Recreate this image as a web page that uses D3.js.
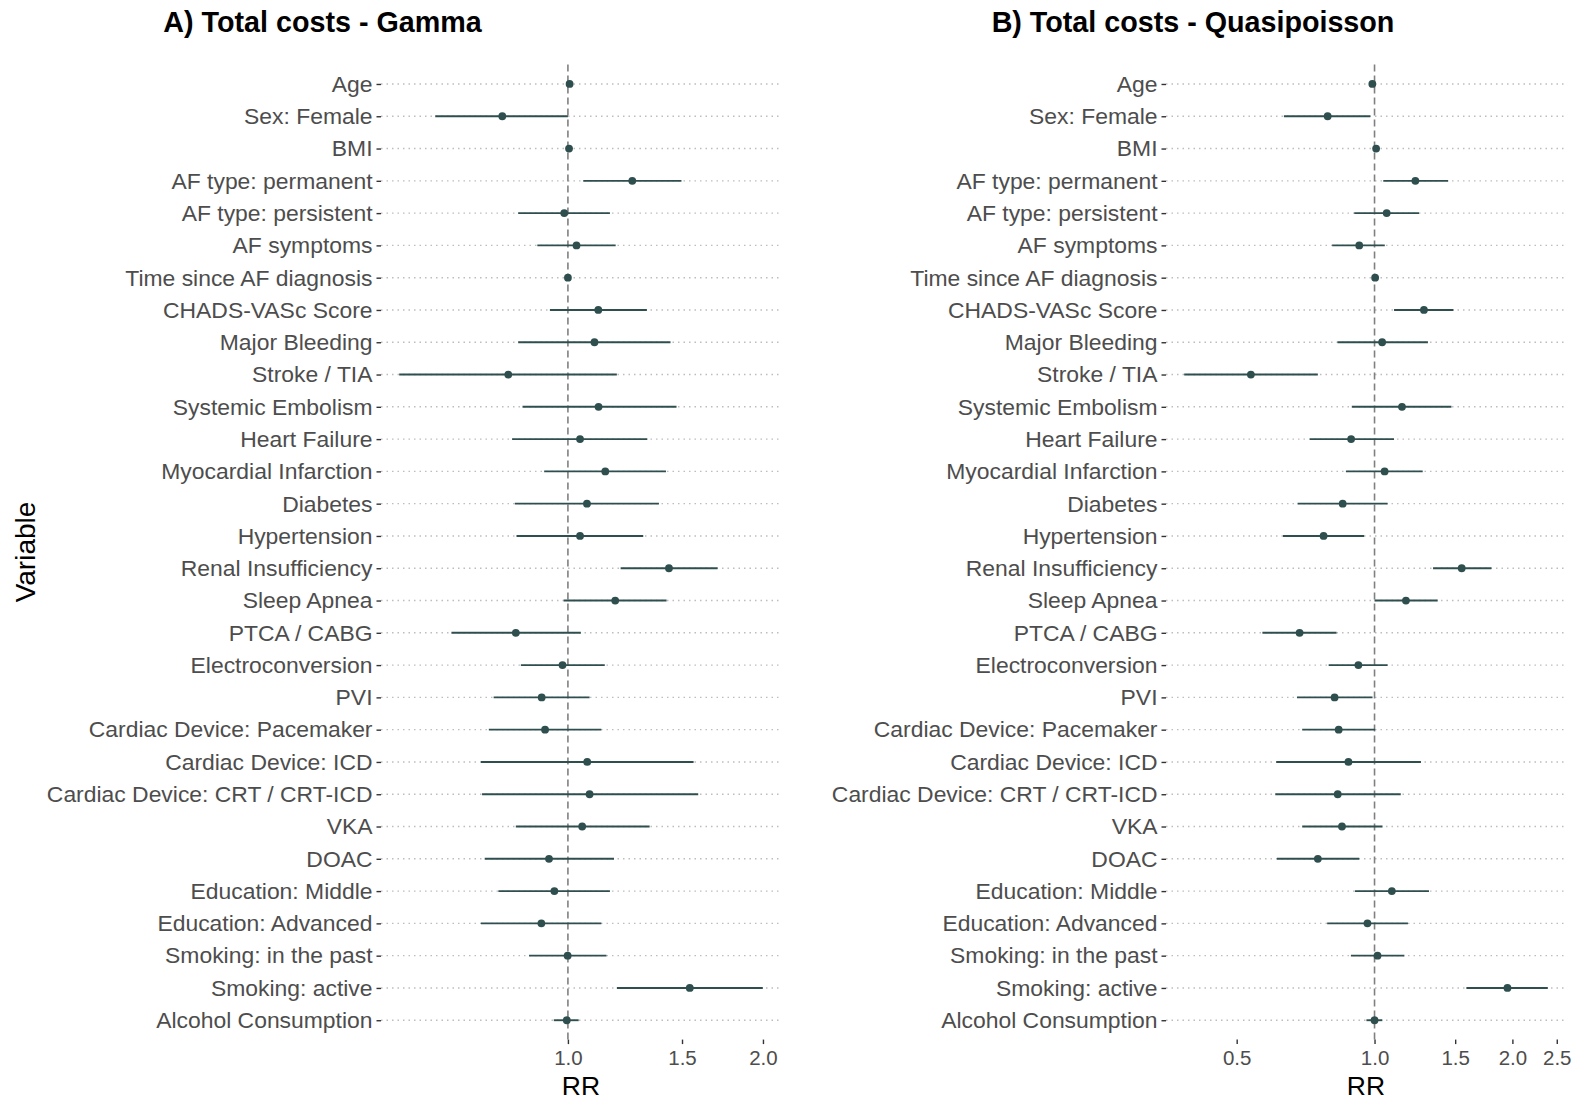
<!DOCTYPE html>
<html>
<head>
<meta charset="utf-8">
<script src="https://cdn.jsdelivr.net/npm/d3@7/dist/d3.min.js"></script>
<style>
  html, body { margin: 0; padding: 0; background: #ffffff; }
  svg { display: block; font-family: "Liberation Sans", Arial, sans-serif; }
</style>
</head>
<body>
<svg id="chart" width="1581" height="1100"></svg>
<script>
// Covariates, top to bottom
const variables = [
  "Age", "Sex: Female", "BMI", "AF type: permanent", "AF type: persistent",
  "AF symptoms", "Time since AF diagnosis", "CHADS-VASc Score", "Major Bleeding",
  "Stroke / TIA", "Systemic Embolism", "Heart Failure", "Myocardial Infarction",
  "Diabetes", "Hypertension", "Renal Insufficiency", "Sleep Apnea", "PTCA / CABG",
  "Electroconversion", "PVI", "Cardiac Device: Pacemaker", "Cardiac Device: ICD",
  "Cardiac Device: CRT / CRT-ICD", "VKA", "DOAC", "Education: Middle",
  "Education: Advanced", "Smoking: in the past", "Smoking: active", "Alcohol Consumption"
];

// Gamma model: rate ratios with 95% CI
const gammaRR = [1.006, 0.792, 1.004, 1.257, 0.987, 1.031, 1.000, 1.114, 1.099, 0.809,
                 1.115, 1.044, 1.142, 1.070, 1.044, 1.432, 1.183, 0.831, 0.981, 0.911,
                 0.922, 1.071, 1.080, 1.052, 0.935, 0.953, 0.910, 0.999, 1.542, 0.996];
const gammaLow = [1.000, 0.624, 0.998, 1.056, 0.838, 0.897, 0.996, 0.938, 0.838, 0.549,
                  0.851, 0.820, 0.919, 0.828, 0.833, 1.206, 0.985, 0.661, 0.846, 0.768,
                  0.755, 0.734, 0.737, 0.831, 0.744, 0.781, 0.734, 0.871, 1.190, 0.951];
const gammaHigh = [1.012, 1.000, 1.010, 1.497, 1.161, 1.185, 1.004, 1.324, 1.440, 1.190,
                   1.471, 1.326, 1.417, 1.382, 1.307, 1.702, 1.420, 1.047, 1.140, 1.080,
                   1.126, 1.563, 1.589, 1.337, 1.178, 1.161, 1.126, 1.147, 1.999, 1.039];

// Quasipoisson model: rate ratios with 95% CI
const qpRR = [0.989, 0.790, 1.008, 1.228, 1.063, 0.926, 1.003, 1.282, 1.039, 0.537,
              1.148, 0.889, 1.052, 0.852, 0.774, 1.550, 1.171, 0.686, 0.922, 0.818,
              0.835, 0.877, 0.831, 0.849, 0.752, 1.091, 0.965, 1.015, 1.951, 1.000];
const qpLow = [0.984, 0.634, 1.003, 1.045, 0.903, 0.808, 0.999, 1.103, 0.830, 0.384,
               0.892, 0.722, 0.866, 0.679, 0.631, 1.342, 1.000, 0.569, 0.794, 0.677,
               0.695, 0.610, 0.607, 0.695, 0.612, 0.906, 0.788, 0.888, 1.587, 0.960];
const qpHigh = [0.994, 0.979, 1.013, 1.448, 1.251, 1.053, 1.007, 1.487, 1.308, 0.752,
                1.472, 1.103, 1.274, 1.068, 0.949, 1.800, 1.374, 0.826, 1.068, 0.990,
                1.003, 1.263, 1.141, 1.041, 0.926, 1.315, 1.183, 1.162, 2.390, 1.040];

const gammaTicks = [1.0, 1.5, 2.0];
const qpTicks = [0.5, 1.0, 1.5, 2.0, 2.5];

const svg = d3.select("#chart");
const ink = "#2F4F4F";
const labelGrey = "#4D4D4D";
const plotTop = 64.6, plotBottom = 1039.6;

const y = d3.scalePoint().domain(variables).range([plotTop, plotBottom]).padding(0.6);

function panel(opts) {
  const { left, right, est, low, high, ticks, title, titleX } = opts;
  // log-scale x domain with a 5% margin on each side
  const lmin = Math.log(d3.min(low)), lmax = Math.log(d3.max(high));
  const pad = (lmax - lmin) * 0.05;
  const x = d3.scaleLog().domain([Math.exp(lmin - pad), Math.exp(lmax + pad)]).range([left, right]);

  const g = svg.append("g");

  // dotted horizontal guide for each covariate
  g.selectAll("line.grid").data(variables).join("line")
    .attr("class", "grid")
    .attr("x1", left).attr("x2", right)
    .attr("y1", d => y(d)).attr("y2", d => y(d))
    .attr("stroke", "#bdbdbd").attr("stroke-width", 1.4)
    .attr("stroke-dasharray", "1.5,4");

  // reference line at RR = 1
  g.append("line")
    .attr("x1", x(1)).attr("x2", x(1))
    .attr("y1", plotTop).attr("y2", plotBottom)
    .attr("stroke", "#808080").attr("stroke-width", 1.6)
    .attr("stroke-dasharray", "7,4");

  // confidence intervals
  g.selectAll("line.ci").data(variables).join("line")
    .attr("class", "ci")
    .attr("x1", (d, i) => x(low[i])).attr("x2", (d, i) => x(high[i]))
    .attr("y1", d => y(d)).attr("y2", d => y(d))
    .attr("stroke", ink).attr("stroke-width", 1.9);

  // point estimates
  g.selectAll("circle").data(variables).join("circle")
    .attr("cx", (d, i) => x(est[i])).attr("cy", d => y(d))
    .attr("r", 3.9).attr("fill", ink);

  // y axis: ticks and labels
  const ya = g.append("g").attr("transform", `translate(${left},0)`)
    .call(d3.axisLeft(y).tickSize(4.5).tickPadding(4));
  ya.select(".domain").remove();
  ya.selectAll(".tick line").attr("stroke", "#333333").attr("stroke-width", 1.4);
  ya.selectAll(".tick text")
    .attr("fill", labelGrey).attr("font-size", 22.9)
    .attr("font-family", "Liberation Sans, Arial, sans-serif");

  // x axis
  const xa = g.append("g").attr("transform", `translate(0,${plotBottom})`)
    .call(d3.axisBottom(x).tickValues(ticks).tickFormat(d3.format(".1f")).tickSize(4.5).tickPadding(6));
  xa.select(".domain").remove();
  xa.selectAll(".tick line").attr("stroke", "#333333").attr("stroke-width", 1.4);
  xa.selectAll(".tick text")
    .attr("fill", labelGrey).attr("font-size", 20.5)
    .attr("font-family", "Liberation Sans, Arial, sans-serif");

  // x axis title
  svg.append("text")
    .attr("x", (left + right) / 2).attr("y", 1095)
    .attr("text-anchor", "middle").attr("font-size", 26.5).attr("fill", "#000")
    .text("RR");

  // panel title
  svg.append("text")
    .attr("x", titleX).attr("y", 32)
    .attr("text-anchor", "middle").attr("font-size", 28.7).attr("font-weight", "bold")
    .attr("fill", "#000").text(title);
}

panel({ left: 381, right: 781, est: gammaRR, low: gammaLow, high: gammaHigh,
        ticks: gammaTicks, title: "A) Total costs - Gamma", titleX: 322.5 });
panel({ left: 1166, right: 1566, est: qpRR, low: qpLow, high: qpHigh,
        ticks: qpTicks, title: "B) Total costs - Quasipoisson", titleX: 1193 });

// y axis title
svg.append("text")
  .attr("transform", "translate(35,552) rotate(-90)")
  .attr("text-anchor", "middle").attr("font-size", 28).attr("fill", "#000")
  .text("Variable");
</script>
</body>
</html>
